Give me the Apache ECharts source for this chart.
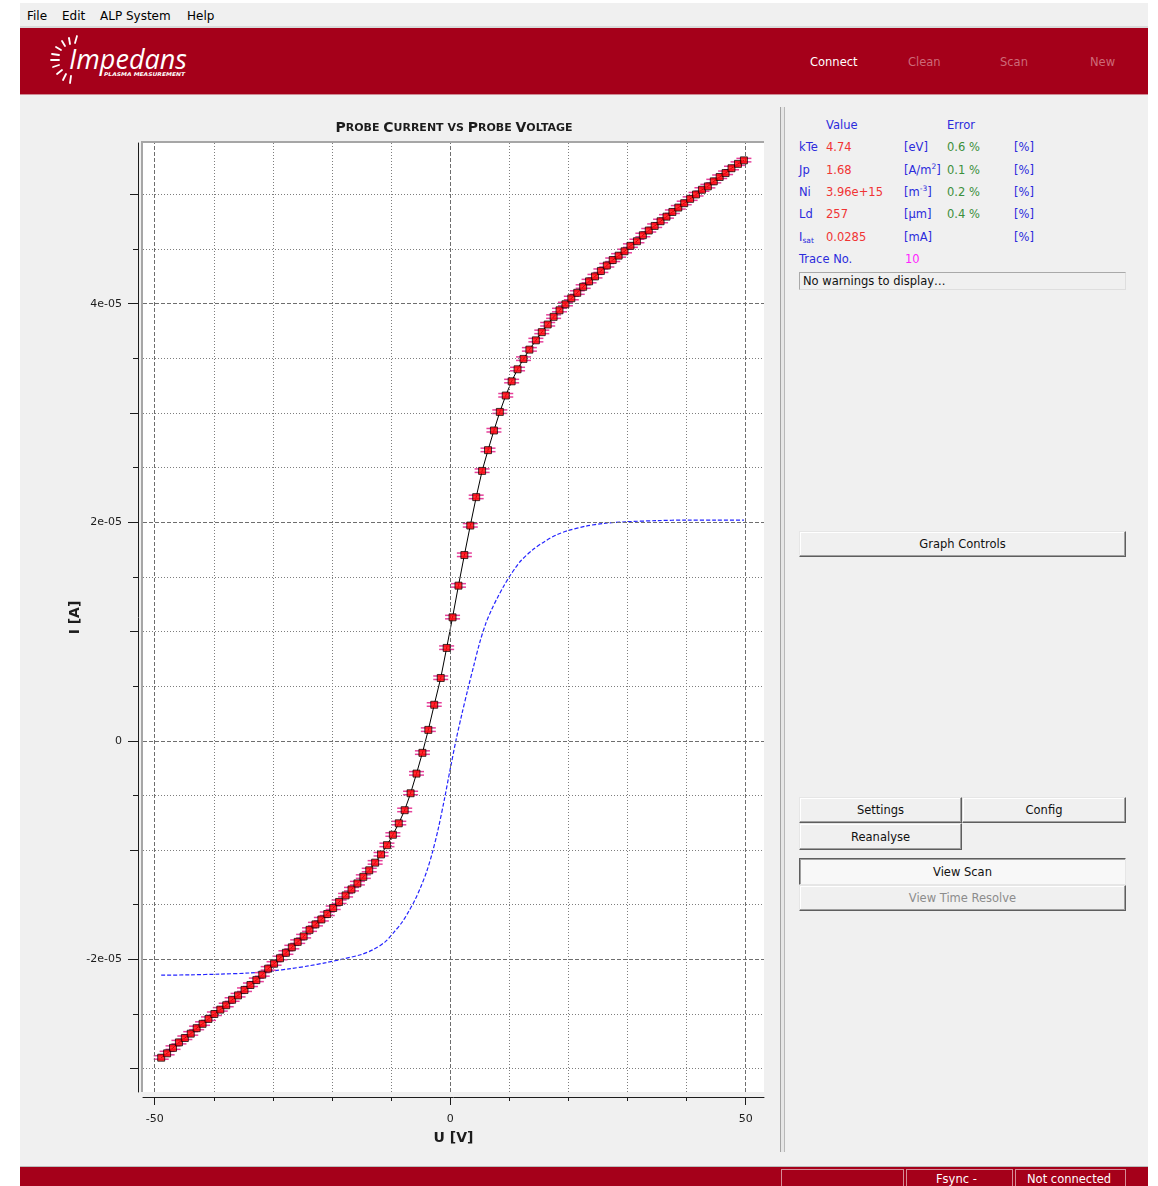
<!DOCTYPE html>
<html>
<head>
<meta charset="utf-8">
<title>Impedans ALP System – Probe Current vs Probe Voltage</title>
<script src="https://cdn.jsdelivr.net/npm/echarts@6.0.0/dist/echarts.min.js"></script>
<style>
  html, body { margin:0; padding:0; width:1158px; height:1186px; overflow:hidden; background:#ffffff; }
  body { position:relative; font-family:"DejaVu Sans", sans-serif; }
  .abs { position:absolute; white-space:nowrap; }
  #menubar { left:20px; top:3px; width:1128px; height:23px; background:#f0f0f0; border-bottom:2px solid #dadada; }
  .menu { position:absolute; top:1px; height:24px; line-height:24px; font-size:12px; color:#000; }
  #header { left:20px; top:28px; width:1128px; height:66px; background:#a5001a; border-bottom:1px solid #cf8a94; }
  .nav { position:absolute; top:54px; height:16px; line-height:16px; font-size:11.5px; color:#cd6a78; }
  #workspace { left:20px; top:95px; width:1128px; height:1071px; background:#f0f0f0; }
  #splitter { left:780px; top:107px; width:3px; height:1045px; border-left:1px solid #a3a3a3; border-right:1px solid #b8b8b8; background:#e6e6e6; }
  #statusbar { left:20px; top:1166px; width:1128px; height:20px; background:#a5001a; border-top:1px solid #bcbcbc; }
  .pane { position:absolute; top:1169px; height:18px; box-sizing:border-box; border:1px solid rgba(255,255,255,0.55); color:#fff; font-size:11.5px; line-height:18px; }
  .t { position:absolute; height:16px; line-height:16px; font-size:11.5px; white-space:nowrap; }
  .lb { color:#2b2bdc; }
  .vl { color:#f03434; }
  .er { color:#3b8f3b; }
  sup { font-size:7.5px; line-height:0; vertical-align:5px; }
  sub { font-size:7.5px; line-height:0; vertical-align:-2px; }
  .btn { position:absolute; box-sizing:border-box; background:#f0f0f0; text-align:center; font-size:11.5px; color:#111;
         border:1px solid; border-color:#e6e6e6 #5e5e5e #5e5e5e #e6e6e6; box-shadow: inset -1px -1px #a0a0a0, inset 1px 1px #ffffff; }
  .btn.down { border-color:#5e5e5e #e6e6e6 #e6e6e6 #5e5e5e; box-shadow: inset 1px 1px #a0a0a0; background:#f8f8f8; }
  .btn.off { color:#8c8c8c; }
  #warn { left:799px; top:272px; width:327px; height:18px; box-sizing:border-box; border:1px solid; border-color:#a9a9a9 #dedede #dedede #a9a9a9; background:#f0f0f0;
          font-size:11.5px; line-height:17px; padding-left:3px; color:#111; }
  #chart { position:absolute; left:0; top:0; width:1158px; height:1186px; }
</style>
</head>
<body>
<div id="menubar" class="abs">
  <span class="menu" style="left:7px">File</span>
  <span class="menu" style="left:42px">Edit</span>
  <span class="menu" style="left:80px">ALP System</span>
  <span class="menu" style="left:167px">Help</span>
</div>
<div id="header" class="abs"></div>
<svg class="abs" style="left:44px;top:34px" width="152" height="56" viewBox="0 0 152 56">
  <g stroke="#ffffff" stroke-width="1.8" stroke-linecap="round" fill="none">
    <line x1="31" y1="9" x2="33" y2="2"/>
    <line x1="26" y1="10" x2="25" y2="4"/>
    <line x1="21" y1="12" x2="18" y2="7"/>
    <line x1="17" y1="16" x2="12" y2="13"/>
    <line x1="15" y1="21" x2="8" y2="20"/>
    <line x1="15" y1="26" x2="7" y2="26"/>
    <line x1="15" y1="31" x2="9" y2="33"/>
    <line x1="18" y1="36" x2="13" y2="40"/>
    <line x1="22" y1="40" x2="19" y2="46"/>
    <line x1="27" y1="42" x2="26" y2="49"/>
  </g>
  <text x="25" y="35" font-family="Open Sans" font-style="italic" font-size="27" fill="#ffffff">Impedans</text>
  <text x="60" y="42" font-family="DejaVu Sans" font-style="italic" font-weight="bold" font-size="5" fill="#ffffff" textLength="81" lengthAdjust="spacingAndGlyphs">PLASMA MEASUREMENT</text>
</svg>
<span class="nav" style="left:810px;color:#ffffff">Connect</span>
<span class="nav" style="left:908px">Clean</span>
<span class="nav" style="left:1000px">Scan</span>
<span class="nav" style="left:1090px">New</span>

<div id="workspace" class="abs"></div>
<div id="splitter" class="abs"></div>

<span class="t lb" style="left:826px;top:117px">Value</span>
<span class="t lb" style="left:947px;top:117px">Error</span>

<span class="t lb" style="left:799px;top:139px">kTe</span>
<span class="t vl" style="left:826px;top:139px">4.74</span>
<span class="t lb" style="left:904px;top:139px">[eV]</span>
<span class="t er" style="left:947px;top:139px">0.6 %</span>
<span class="t lb" style="left:1014px;top:139px">[%]</span>

<span class="t lb" style="left:799px;top:162px">Jp</span>
<span class="t vl" style="left:826px;top:162px">1.68</span>
<span class="t lb" style="left:904px;top:162px">[A/m<sup>2</sup>]</span>
<span class="t er" style="left:947px;top:162px">0.1 %</span>
<span class="t lb" style="left:1014px;top:162px">[%]</span>

<span class="t lb" style="left:799px;top:184px">Ni</span>
<span class="t vl" style="left:826px;top:184px">3.96e+15</span>
<span class="t lb" style="left:904px;top:184px">[m<sup>-3</sup>]</span>
<span class="t er" style="left:947px;top:184px">0.2 %</span>
<span class="t lb" style="left:1014px;top:184px">[%]</span>

<span class="t lb" style="left:799px;top:206px">Ld</span>
<span class="t vl" style="left:826px;top:206px">257</span>
<span class="t lb" style="left:904px;top:206px">[µm]</span>
<span class="t er" style="left:947px;top:206px">0.4 %</span>
<span class="t lb" style="left:1014px;top:206px">[%]</span>

<span class="t lb" style="left:799px;top:229px">I<sub>sat</sub></span>
<span class="t vl" style="left:826px;top:229px">0.0285</span>
<span class="t lb" style="left:904px;top:229px">[mA]</span>
<span class="t lb" style="left:1014px;top:229px">[%]</span>

<span class="t lb" style="left:799px;top:251px">Trace No.</span>
<span class="t" style="left:905px;top:251px;color:#ff22ff">10</span>

<div id="warn" class="abs">No warnings to display…</div>

<div class="btn" style="left:799px;top:531px;width:327px;height:26px;line-height:25px">Graph Controls</div>
<div class="btn" style="left:799px;top:797px;width:163px;height:26px;line-height:25px">Settings</div>
<div class="btn" style="left:962px;top:797px;width:164px;height:26px;line-height:25px">Config</div>
<div class="btn" style="left:799px;top:823px;width:163px;height:27px;line-height:26px">Reanalyse</div>
<div class="btn down" style="left:799px;top:858px;width:327px;height:27px;line-height:26px">View Scan</div>
<div class="btn off" style="left:799px;top:885px;width:327px;height:26px;line-height:25px">View Time Resolve</div>

<div id="statusbar" class="abs"></div>
<div class="pane" style="left:781px;width:123px"></div>
<div class="pane" style="left:906px;width:107px;padding-left:29px">Fsync -</div>
<div class="pane" style="left:1015px;width:111px;padding-left:11px">Not connected</div>

<div id="chart"></div>

<script>
// Sweep voltages of the probe [V]
const probeVoltage = [
  -48.9, -47.9, -46.9, -45.9, -44.9, -43.9, -42.9, -41.9, -40.9, -39.9,
  -38.9, -37.9, -36.9, -35.9, -34.8, -33.8, -32.8, -31.8, -30.8, -29.8,
  -28.8, -27.8, -26.8, -25.8, -24.8, -23.8, -22.8, -21.8, -20.8, -19.8,
  -18.8, -17.7, -16.7, -15.7, -14.7, -13.7, -12.7, -11.7, -10.7, -9.7,
  -8.7, -7.7, -6.7, -5.7, -4.7, -3.7, -2.7, -1.6, -0.6, 0.4,
  1.4, 2.4, 3.4, 4.4, 5.4, 6.4, 7.4, 8.4, 9.4, 10.4,
  11.4, 12.4, 13.4, 14.5, 15.5, 16.5, 17.5, 18.5, 19.5, 20.5,
  21.5, 22.5, 23.5, 24.5, 25.5, 26.5, 27.5, 28.5, 29.5, 30.5,
  31.6, 32.6, 33.6, 34.6, 35.6, 36.6, 37.6, 38.6, 39.6, 40.6,
  41.6, 42.6, 43.6, 44.6, 45.6, 46.6, 47.6, 48.7, 49.7
];
// Measured probe current [µA]
const probeCurrent = [
  -29.0, -28.6, -28.1, -27.6, -27.2, -26.8, -26.3, -25.9, -25.45, -25.0,
  -24.6, -24.2, -23.7, -23.3, -22.8, -22.35, -21.9, -21.4, -20.85, -20.4,
  -19.9, -19.4, -18.9, -18.4, -17.9, -17.3, -16.8, -16.35, -15.85, -15.3,
  -14.75, -14.15, -13.6, -13.05, -12.45, -11.85, -11.15, -10.4, -9.55, -8.6,
  -7.55, -6.35, -4.8, -3.0, -1.1, 1.0, 3.3, 5.75, 8.5, 11.3,
  14.2, 17.0, 19.7, 22.3, 24.7, 26.6, 28.4, 30.1, 31.6, 32.9,
  34.0, 34.95, 35.8, 36.65, 37.4, 38.1, 38.8, 39.4, 39.95, 40.5,
  41.0, 41.55, 42.05, 42.5, 43.0, 43.5, 44.0, 44.4, 44.8, 45.3,
  45.72, 46.27, 46.7, 47.12, 47.55, 47.97, 48.4, 48.8, 49.2, 49.6,
  50.0, 50.43, 50.74, 51.2, 51.6, 51.96, 52.4, 52.8, 53.12
];
// Fitted characteristic [V] / [µA]
const fitVoltage = [
  -48.9, -44, -39, -34, -30, -27, -24, -21, -18, -15, -13, -11, -9.5, -8.2, -7,
  -6, -5, -4, -3, -2, -1, 0, 1, 2, 3, 4, 5, 6, 7, 8,
  9, 10, 11, 12, 14, 16, 18, 20, 23, 26, 30, 35, 40, 45, 49.7
];
const fitCurrent = [
  -21.45, -21.42, -21.35, -21.25, -21.05, -20.85, -20.6, -20.3, -19.95, -19.55, -19.1, -18.4, -17.5, -16.65, -15.6,
  -14.6, -13.4, -12.0, -10.2, -8.0, -5.4, -2.6, 0.1, 2.5, 4.75, 6.9, 9.0, 10.7, 12.0, 13.1,
  14.1, 15.0, 15.8, 16.5, 17.5, 18.25, 18.85, 19.25, 19.65, 19.9, 20.05, 20.15, 20.2, 20.2, 20.2
];

// Axis ticks: voltage [V], current [µA]
const xMajorTicks = [-50, 0, 50];
const xMinorTicks = [-40, -30, -20, -10, 10, 20, 30, 40];
const yMajorTicks = [-20, 0, 20, 40];
const yMediumTicks = [-30, -10, 10, 30, 50];
const yMinorTicks = [-25, -15, -5, 5, 15, 25, 35, 45];

const chartTitle = 'Probe Current vs Probe Voltage';
const xName = 'U [V]';
const yName = 'I [A]';

// ---------------------------------------------------------------------------
const X_MIN = -51.98, X_MAX = 53.10;
const Y_MIN = -32.14, Y_MAX = 54.71;
const INK = '#1c1c1c';
const TICK_FONT = { fontFamily: 'DejaVu Sans', fontSize: 11, color: INK };

const measured = probeVoltage.map((v, i) => [v, probeCurrent[i]]);
const fitted = fitVoltage.map((v, i) => [v, fitCurrent[i]]);

// µA -> "4e-05" style labels in amperes
function ampLabel(v) {
  if (v === 0) return '0';
  return (v * 1e-6).toExponential(0).replace(/e([+-])(\d)$/, 'e$10$2');
}
// upper-case letters stay large, lower-case become small capitals
function smallCaps(str) {
  return str.replace(/[A-Z]+|[a-z]+/g, m => /[A-Z]/.test(m[0]) ? '{c|' + m + '}' : '{s|' + m.toUpperCase() + '}');
}

function xAxisDef(ticks, len, main) {
  return {
    type: 'value', min: X_MIN, max: X_MAX, position: 'bottom', offset: 5,
    axisLine: { show: main, onZero: false, lineStyle: { color: INK, width: 1 } },
    axisTick: { show: true, customValues: ticks, length: len, lineStyle: { color: INK, width: 1 } },
    axisLabel: main ? Object.assign({ show: true, customValues: ticks, margin: 17 }, TICK_FONT) : { show: false },
    splitLine: { show: false },
    name: main ? xName : '', nameLocation: 'middle', nameGap: 34, nameMoveOverlap: false,
    nameTextStyle: { fontFamily: 'DejaVu Sans', fontWeight: 'bold', fontSize: 14, color: INK }
  };
}
function yAxisDef(ticks, len, main) {
  return {
    type: 'value', min: Y_MIN, max: Y_MAX, position: 'left', offset: 5,
    axisLine: { show: main, onZero: false, lineStyle: { color: INK, width: 1 } },
    axisTick: { show: true, customValues: ticks, length: len, lineStyle: { color: INK, width: 1 } },
    axisLabel: main ? Object.assign({ show: true, customValues: ticks, margin: 16, formatter: ampLabel }, TICK_FONT) : { show: false },
    splitLine: { show: false },
    name: main ? yName : '', nameLocation: 'middle', nameGap: 56, nameRotate: 90, nameMoveOverlap: false,
    nameTextStyle: { fontFamily: 'DejaVu Sans', fontWeight: 'bold', fontSize: 14, color: INK }
  };
}

const gridLine = (major) => ({ color: major ? '#6e6e6e' : '#7e7e7e', width: 1, type: major ? [4, 2] : [1, 2] });
const xGrid = xMajorTicks.concat(xMinorTicks);
const yGrid = yMajorTicks.concat(yMediumTicks, yMinorTicks);

const option = {
  animation: false,
  backgroundColor: 'transparent',
  grid: { left: 143, top: 143, width: 621, height: 949, show: true, backgroundColor: '#ffffff', borderWidth: 0 },
  xAxis: [xAxisDef(xMajorTicks, 8, true), xAxisDef(xMinorTicks, 4, false)],
  yAxis: [yAxisDef(yMajorTicks, 10, true), yAxisDef(yMediumTicks, 8, false), yAxisDef(yMinorTicks, 5, false)],
  graphic: [
    {
      type: 'text', x: 454, y: 128, silent: true,
      style: {
        text: smallCaps(chartTitle), align: 'center', verticalAlign: 'middle', fill: INK,
        fontFamily: 'DejaVu Sans', fontWeight: 'bold', fontSize: 11,
        rich: {
          c: { fontFamily: 'DejaVu Sans', fontWeight: 'bold', fontSize: 14, fill: INK },
          s: { fontFamily: 'DejaVu Sans', fontWeight: 'bold', fontSize: 11, fill: INK }
        }
      }
    },
    // sunken frame edge on top and left of the canvas
    { type: 'rect', silent: true, shape: { x: 141, y: 141, width: 623, height: 2 }, style: { fill: '#a6a6a6' }, z: 10 },
    { type: 'rect', silent: true, shape: { x: 141, y: 141, width: 2, height: 951 }, style: { fill: '#a6a6a6' }, z: 10 }
  ],
  series: [
    {
      type: 'line', name: 'grid', data: [], silent: true, z: 1,
      markLine: {
        silent: true, symbol: 'none', animation: false, label: { show: false },
        data: xGrid.map(v => ({ xAxis: v, lineStyle: gridLine(xMajorTicks.includes(v)) }))
          .concat(yGrid.map(v => ({ yAxis: v, lineStyle: gridLine(yMajorTicks.includes(v)) })))
      }
    },
    {
      type: 'line', name: 'fit', data: fitted, smooth: 0.3, showSymbol: false, silent: true, z: 2,
      lineStyle: { color: '#2424ff', width: 1.2, type: [4, 2] }
    },
    {
      type: 'line', name: 'trace', data: measured, showSymbol: false, silent: true, z: 3,
      lineStyle: { color: '#000000', width: 1 }
    },
    {
      type: 'custom', name: 'error', data: measured, silent: true, z: 4,
      renderItem: (params, api) => {
        const p = api.coord([api.value(0), api.value(1)]);
        const cap = (dy) => ({
          type: 'line',
          shape: { x1: p[0] - 7.5, y1: p[1] + dy, x2: p[0] + 7.5, y2: p[1] + dy },
          style: { stroke: '#e6409a', lineWidth: 1.5 }
        });
        return { type: 'group', children: [cap(-2), cap(1.5)] };
      }
    },
    {
      type: 'scatter', name: 'points', data: measured, symbol: 'rect', symbolSize: 7, silent: true, z: 5,
      itemStyle: { color: '#ff0000', borderColor: '#000000', borderWidth: 0.9 }
    }
  ]
};

const chart = echarts.init(document.getElementById('chart'), null, { renderer: 'canvas' });
chart.setOption(option);
</script>
</body>
</html>
